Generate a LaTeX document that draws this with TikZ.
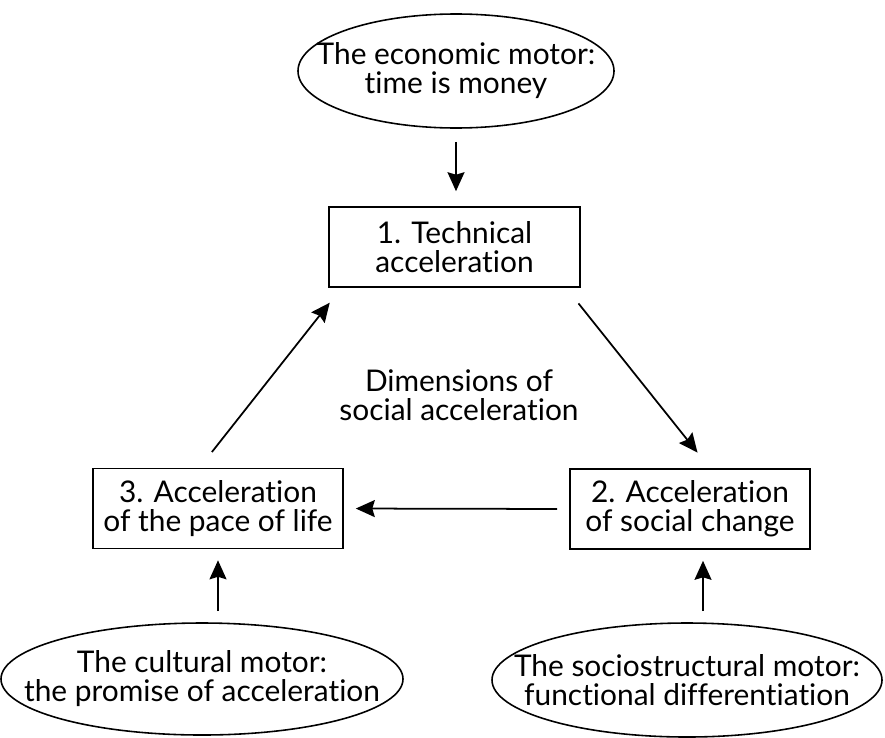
\documentclass[tikz,border=0pt]{standalone}
\usepackage{fontspec}
\setmainfont[Ligatures=NoCommon]{Lato}
\usetikzlibrary{shapes.geometric,arrows.meta}

\begin{document}
\begin{tikzpicture}[x=0.2mm,y=-0.2mm,
    font=\fontsize{17}{16.5}\selectfont,
    dimbox/.style={draw,line width=0.9pt,align=center,inner sep=0pt,minimum height=16mm},
    motor/.style={draw,ellipse,line width=0.9pt,align=center,inner sep=-10mm},
    arr/.style={line width=1pt,-{Stealth[length=3.8mm,width=3.4mm,inset=0.5mm]}}]
    \useasboundingbox (0,0) rectangle (885,737);

    \node[motor,minimum width=63.2mm,minimum height=22.8mm] (econ) at (456,71) {The economic motor:\\time is money};
    \node[dimbox,minimum width=50.2mm] (tech) at (454.5,247) {1. Technical\\acceleration};
    \node[dimbox,minimum width=48mm] (change) at (690,509) {2. Acceleration\\of social change};
    \node[dimbox,minimum width=50mm] (pace) at (218,508.5) {3. Acceleration\\of the pace of life};
    \node[align=center] (dims) at (459,395) {Dimensions of\\social acceleration};
    \node[motor,minimum width=80.4mm,minimum height=22.4mm] (cult) at (202,679) {The cultural motor:\\the promise of acceleration};
    \node[motor,minimum width=78mm,minimum height=22.8mm] (struct) at (687,680) {The sociostructural motor:\\functional differentiation};

    \draw[arr,shorten <=2.6mm,shorten >=3mm] (econ.south) -- (econ.south |- tech.north);
    \draw[arr,shorten <=4mm,shorten >=4mm] ([xshift=22.3mm]tech.south) -- ([xshift=4mm]change.north);
    \draw[arr,shorten <=2.4mm,shorten >=2.4mm] (change.west) -- (pace.east);
    \draw[arr,shorten <=4mm,shorten >=3.8mm] ([xshift=-3.7mm]pace.north) -- ([xshift=-22.6mm]tech.south);
    \draw[arr,shorten <=2.2mm,shorten >=2.2mm] (pace.south |- cult.north) -- (pace.south);
    \draw[arr,shorten <=2.2mm,shorten >=2.2mm] ([xshift=2.6mm]change.south |- struct.north) -- ([xshift=2.6mm]change.south);
\end{tikzpicture}
\end{document}
